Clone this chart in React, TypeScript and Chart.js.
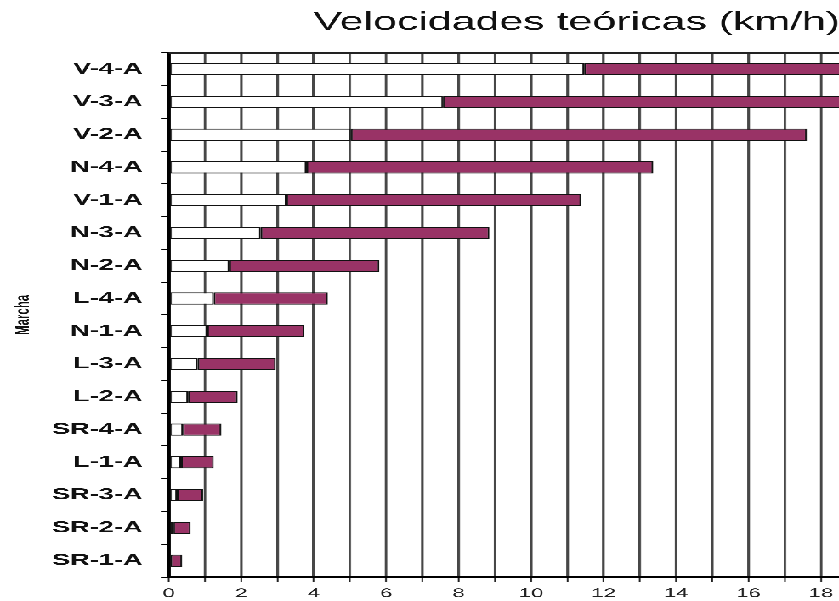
import React, { useEffect, useRef } from 'react';
import { Chart, registerables } from 'chart.js';

Chart.register(...registerables);

const categories = ['V-4-A', 'V-3-A', 'V-2-A', 'N-4-A', 'V-1-A', 'N-3-A', 'N-2-A', 'L-4-A', 'N-1-A', 'L-3-A', 'L-2-A', 'SR-4-A', 'L-1-A', 'SR-3-A', 'SR-2-A', 'SR-1-A'];
const startSpeeds = [11.46, 7.57, 5.03, 3.8, 3.25, 2.54, 1.67, 1.24, 1.06, 0.8, 0.53, 0.39, 0.34, 0.23, 0.13, 0.05];
const endSpeeds = [40.1, 26.5, 17.61, 13.37, 11.38, 8.85, 5.81, 4.39, 3.74, 2.95, 1.9, 1.45, 1.24, 0.95, 0.6, 0.37];
const xTickValues = [0, 1, 2, 3, 4, 5, 6, 7, 8, 9, 10, 11, 12, 13, 14, 15, 16, 17, 18];
const xLabelStep = 2;
const chartTitle = 'Velocidades teóricas (km/h)';
const yTitle = 'Marcha';

const STRETCH = 1.7;
const W = 839 / STRETCH;
const FAMILY = '"Liberation Sans", Arial, Helvetica, sans-serif';

const topBorder = {
  id: 'topBorder',
  afterDatasetsDraw(chart: any) {
    const { ctx, chartArea: a } = chart;
    ctx.save();
    ctx.strokeStyle = '#222';
    ctx.lineWidth = 2;
    ctx.beginPath();
    ctx.moveTo(a.left, a.top);
    ctx.lineTo(a.right, a.top);
    ctx.stroke();
    ctx.restore();
  },
};

export default function App() {
  const ref = useRef<HTMLCanvasElement | null>(null);

  useEffect(() => {
    if (!ref.current) return;
    const chart = new Chart(ref.current, {
      type: 'bar',
      data: {
        labels: categories,
        datasets: [
          {
            label: 'inicio',
            data: startSpeeds,
            backgroundColor: '#ffffff',
            borderColor: '#111111',
            borderWidth: 1,
            borderSkipped: false,
            grouped: false,
            barPercentage: 0.37,
            categoryPercentage: 1,
          } as any,
          {
            label: 'rango',
            data: categories.map((_, i) => [startSpeeds[i], endSpeeds[i]]),
            backgroundColor: '#993366',
            borderColor: '#111111',
            borderWidth: 1,
            borderSkipped: false,
            grouped: false,
            barPercentage: 0.37,
            categoryPercentage: 1,
          } as any,
        ],
      },
      options: {
        indexAxis: 'y',
        responsive: true,
        maintainAspectRatio: false,
        animation: false,
        devicePixelRatio: 3,
        layout: { padding: 0 },
        plugins: {
          legend: { display: false },
          tooltip: { enabled: false },
          title: {
            display: true,
            text: chartTitle,
            align: 'end',
            color: '#111',
            font: { family: FAMILY, size: 25.2, weight: 'normal' },
            padding: { top: 7.5, bottom: 15 },
          },
        },
        scales: {
          x: {
            type: 'linear',
            min: 0,
            max: 18.525,
            afterBuildTicks: (s: any) => {
              s.ticks = xTickValues.map((v) => ({ value: v }));
            },
            afterFit: (s: any) => {
              s.height = 24;
            },
            ticks: {
              autoSkip: false,
              maxRotation: 0,
              padding: 4,
              color: '#222',
              font: { family: FAMILY, size: 13 },
              callback: (v: any) => (Number(v) % xLabelStep === 0 ? String(v) : ''),
            },
            grid: { color: '#474747', lineWidth: 1.5, tickLength: 5, tickColor: '#222', tickWidth: 1 },
            border: { color: '#000', width: 2 },
          },
          y: {
            type: 'category',
            afterFit: (s: any) => {
              s.width = 99.1;
            },
            grid: { drawOnChartArea: false, offset: true, tickLength: 4.7, tickColor: '#000', tickWidth: 1 },
            border: { color: '#000', width: 2.3 },
            ticks: {
              padding: 10.6,
              color: '#111',
              font: { family: FAMILY, size: 16, weight: 'bold' },
            },
            title: {
              display: true,
              text: yTitle,
              color: '#111',
              font: { family: FAMILY, size: 11.5, weight: 'bold' },
              padding: { top: 6.8, bottom: 0 },
            },
          },
        },
      } as any,
      plugins: [topBorder],
    });
    return () => chart.destroy();
  }, []);

  return (
    <div
      style={{
        position: 'fixed',
        left: 0,
        top: 0,
        width: W,
        height: 601,
        transform: `scaleX(${STRETCH})`,
        transformOrigin: '0 0',
        background: '#fff',
      }}
    >
      <canvas ref={ref} />
    </div>
  );
}
